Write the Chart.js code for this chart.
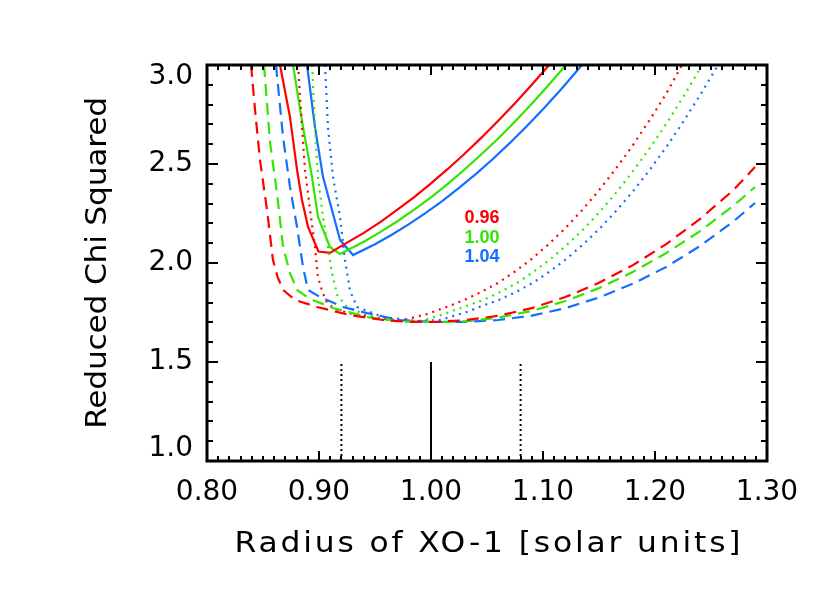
<!DOCTYPE html>
<html>
<head>
<meta charset="utf-8">
<script src="https://cdn.jsdelivr.net/npm/chart.js@4.4.1/dist/chart.umd.min.js"></script>
<style>
  body { margin: 0; background: #fff; }
  #wrap { width: 830px; height: 593px; position: relative; }
</style>
</head>
<body>
<div id="wrap"><canvas id="chart"></canvas></div>
<script>
// tick values
const xTicks = [0.80, 0.90, 1.00, 1.10, 1.20, 1.30]
const yTicks = [1.0, 1.5, 2.0, 2.5, 3.0]

// curve labels (stellar mass)
const curveLabels = ["0.96", "1.00", "1.04"]
const curveLabelX = 1.03
const curveLabelY = [2.225, 2.124, 2.030]

// vertical markers (best radius and error bars)
const markerX = [0.92, 1.00, 1.08]
const markerStyle = ["dot", "solid", "dot"]
const markerY = [1.0, 1.5]

// [radius, reduced chi squared]
const redSolid = [[0.8652,3.0],[0.8741,2.737],[0.8804,2.470],[0.8848,2.318],[0.8902,2.182],[0.8995,2.058],[0.9098,2.051],[0.9205,2.088],[0.94,2.152],[0.955,2.208],[0.97,2.269],[0.985,2.333],[1.00,2.402],[1.015,2.475],[1.03,2.552],[1.045,2.633],[1.06,2.718],[1.075,2.807],[1.09,2.900],[1.1054,3.0]]
const greenSolid = [[0.8768,3.0],[0.8857,2.687],[0.8938,2.434],[0.8991,2.232],[0.9098,2.081],[0.9188,2.045],[0.94,2.107],[0.955,2.157],[0.97,2.211],[0.985,2.270],[1.00,2.332],[1.015,2.400],[1.03,2.472],[1.045,2.549],[1.06,2.629],[1.075,2.715],[1.09,2.804],[1.105,2.899],[1.1205,3.0]]
const blueSolid = [[0.8893,3.0],[0.8964,2.687],[0.9036,2.434],[0.9116,2.268],[0.9188,2.116],[0.9304,2.040],[0.95,2.095],[0.965,2.143],[0.98,2.195],[0.995,2.252],[1.01,2.313],[1.025,2.379],[1.04,2.449],[1.055,2.524],[1.07,2.604],[1.085,2.688],[1.10,2.777],[1.117,2.883],[1.1348,3.0]]

const redDotted = [[0.8813,3.0],[0.8848,2.687],[0.8875,2.470],[0.8920,2.268],[0.8964,2.081],[0.8991,1.929],[0.9027,1.86],[0.9075,1.795],[0.916,1.765],[0.928,1.745],[0.9571,1.717],[0.975,1.711],[0.9964,1.742],[1.017,1.784],[1.03,1.814],[1.045,1.854],[1.06,1.900],[1.075,1.957],[1.09,2.021],[1.105,2.095],[1.12,2.176],[1.135,2.267],[1.15,2.367],[1.165,2.476],[1.18,2.593],[1.195,2.720],[1.21,2.855],[1.2241,3.0]]
const greenDotted = [[0.8938,3.0],[0.8964,2.687],[0.8991,2.434],[0.9036,2.232],[0.9080,2.081],[0.9116,1.949],[0.9161,1.84],[0.925,1.778],[0.9429,1.735],[0.9723,1.708],[0.992,1.708],[1.014,1.747],[1.034,1.788],[1.047,1.814],[1.062,1.854],[1.077,1.900],[1.092,1.957],[1.107,2.021],[1.122,2.095],[1.137,2.176],[1.152,2.267],[1.167,2.367],[1.182,2.476],[1.197,2.593],[1.212,2.720],[1.227,2.855],[1.2420,3.0]]
const blueDotted = [[0.9054,3.0],[0.9080,2.687],[0.9125,2.434],[0.9188,2.232],[0.9232,2.015],[0.9277,1.86],[0.9339,1.778],[0.9571,1.727],[0.9875,1.707],[1.008,1.712],[1.0321,1.753],[1.048,1.788],[1.061,1.814],[1.076,1.854],[1.091,1.900],[1.106,1.957],[1.121,2.021],[1.136,2.095],[1.151,2.176],[1.166,2.267],[1.181,2.367],[1.196,2.476],[1.211,2.593],[1.226,2.720],[1.241,2.855],[1.2563,3.0]]

const redDashed = [[0.8393,3.0],[0.8429,2.773],[0.8473,2.520],[0.8536,2.268],[0.8589,2.015],[0.8630,1.93],[0.8679,1.864],[0.8786,1.813],[0.8982,1.778],[0.9277,1.737],[0.9571,1.712],[0.9786,1.703],[1.0018,1.702],[1.03,1.711],[1.06,1.733],[1.09,1.772],[1.12,1.828],[1.15,1.900],[1.18,1.988],[1.21,2.095],[1.24,2.222],[1.27,2.368],[1.2893,2.485]]
const greenDashed = [[0.8509,3.0],[0.8563,2.606],[0.8625,2.354],[0.8679,2.081],[0.8741,1.949],[0.8804,1.864],[0.8920,1.818],[0.9125,1.773],[0.9429,1.727],[0.9723,1.704],[1.0018,1.702],[1.03,1.705],[1.06,1.724],[1.09,1.758],[1.12,1.808],[1.15,1.873],[1.18,1.954],[1.21,2.050],[1.24,2.160],[1.27,2.289],[1.2893,2.384]]
const blueDashed = [[0.8616,3.0],[0.8679,2.636],[0.8741,2.384],[0.8804,2.182],[0.8857,1.980],[0.8902,1.864],[0.9009,1.828],[0.9071,1.813],[0.9214,1.778],[0.9429,1.747],[0.9723,1.712],[1.0018,1.702],[1.03,1.702],[1.06,1.712],[1.09,1.734],[1.12,1.772],[1.15,1.826],[1.18,1.895],[1.21,1.980],[1.24,2.085],[1.27,2.210],[1.2893,2.303]]

const RED = "rgb(255,0,0)"
const GREEN = "rgb(50,230,0)"
const BLUE = "rgb(20,110,255)"
const labelColors = [RED, GREEN, BLUE]

const DASH = [12, 7]
const DOT = [2, 5]

const toPts = arr => arr.map(p => ({x: p[0], y: p[1]}))

const curve = function(arr, color, dash){
    return {
        data: toPts(arr),
        borderColor: color,
        borderWidth: 2.2,
        borderDash: dash,
        pointRadius: 0,
        tension: 0,
        fill: false
    }
}

const datasets = [
    curve(redDashed, RED, DASH), curve(greenDashed, GREEN, DASH), curve(blueDashed, BLUE, DASH),
    curve(redDotted, RED, DOT), curve(greenDotted, GREEN, DOT), curve(blueDotted, BLUE, DOT),
    curve(redSolid, RED, []), curve(greenSolid, GREEN, []), curve(blueSolid, BLUE, [])
]

markerX.forEach((mx, i) => {
    datasets.push({
        data: markerY.map(v => ({x: mx, y: v})),
        borderColor: "#000",
        borderWidth: 2,
        borderDash: markerStyle[i] == "solid" ? [] : [2, 3],
        pointRadius: 0,
        fill: false
    })
})

// wide IDL-like text: stretch glyphs a bit, spread the rest with letter spacing
const wideText = function(ctx, text, x, y, width){
    const sx = 1.12
    ctx.save()
    ctx.translate(x, y)
    ctx.scale(sx, 1)
    ctx.letterSpacing = "0px"
    const w = ctx.measureText(text).width * sx
    ctx.letterSpacing = ((width - w) / sx / (text.length - 1)) + "px"
    ctx.fillText(text, 0, 0)
    ctx.restore()
}

// IDL style frame with inward ticks, titles and curve labels
const idlFrame = {
    id: "idlFrame",
    beforeDraw(chart){
        // end labels of y axis sit inside the frame
        const items = chart.scales.y.getLabelItems()
        if(!items._moved){
            items[0].options.translation[1] -= 12
            items[items.length-1].options.translation[1] += 12
            items._moved = true
        }
    },
    afterDraw(chart){
        const ctx = chart.ctx
        const a = chart.chartArea
        const xs = chart.scales.x
        const ys = chart.scales.y
        ctx.save()
        ctx.strokeStyle = "#000"
        ctx.lineWidth = 2
        ctx.beginPath()
        for(let i = 0; i <= 50; i++){
            const v = 0.80 + i*0.01
            const px = Math.round(xs.getPixelForValue(v))
            const len = (i % 10 == 0) ? 10 : 5
            ctx.moveTo(px, a.bottom); ctx.lineTo(px, a.bottom - len)
            ctx.moveTo(px, a.top); ctx.lineTo(px, a.top + len)
        }
        for(let i = 0; i <= 20; i++){
            const v = 1.0 + i*0.1
            const py = Math.round(ys.getPixelForValue(v))
            const len = (i % 5 == 0) ? 11 : 6
            ctx.moveTo(a.left, py); ctx.lineTo(a.left + len, py)
            ctx.moveTo(a.right, py); ctx.lineTo(a.right - len, py)
        }
        ctx.stroke()
        ctx.lineWidth = 3
        ctx.strokeRect(a.left, a.top, a.right - a.left, a.bottom - a.top)

        // axis titles
        ctx.fillStyle = "#000"
        ctx.font = "28px 'DejaVu Sans'"
        ctx.textAlign = "center"
        ctx.textBaseline = "middle"
        wideText(ctx, "Radius of XO-1 [solar units]", (a.left + a.right)/2 + 2, a.bottom + 84, 506)
        ctx.save()
        ctx.translate(a.left - 108, (a.top + a.bottom)/2)
        ctx.rotate(-Math.PI/2)
        wideText(ctx, "Reduced Chi Squared", 0, 0, 332)
        ctx.restore()

        // curve labels
        ctx.font = "bold 18px 'Liberation Sans'"
        ctx.textAlign = "left"
        curveLabels.forEach((t, i) => {
            ctx.fillStyle = labelColors[i]
            ctx.fillText(t, xs.getPixelForValue(curveLabelX), ys.getPixelForValue(curveLabelY[i]))
        })
        ctx.restore()
    }
}

const ctx = document.getElementById("chart").getContext("2d")
const myChart = new Chart(ctx, {
    type: "line",
    data: { datasets: datasets },
    options: {
        responsive: true,
        maintainAspectRatio: false,
        animation: false,
        layout: { padding: { top: 65, right: 63, left: 0, bottom: 0 } },
        plugins: { legend: { display: false }, tooltip: { enabled: false } },
        scales: {
            x: {
                type: "linear",
                min: 0.8, max: 1.3,
                afterBuildTicks: s => { s.ticks = xTicks.map(v => ({value: v})) },
                afterFit: s => { s.height = 132 },
                grid: { display: false, drawTicks: false },
                border: { display: false },
                ticks: {
                    color: "#000",
                    padding: 15,
                    maxRotation: 0,
                    font: { family: "'DejaVu Sans'", size: 28 },
                    callback: v => v.toFixed(2)
                }
            },
            y: {
                type: "linear",
                min: 1.0, max: 3.0,
                afterBuildTicks: s => { s.ticks = yTicks.map(v => ({value: v})) },
                afterFit: s => { s.width = 207 },
                grid: { display: false, drawTicks: false },
                border: { display: false },
                ticks: {
                    color: "#000",
                    padding: 14,
                    font: { family: "'DejaVu Sans'", size: 28 },
                    callback: v => v.toFixed(1)
                }
            }
        }
    },
    plugins: [idlFrame]
})
</script>
</body>
</html>
